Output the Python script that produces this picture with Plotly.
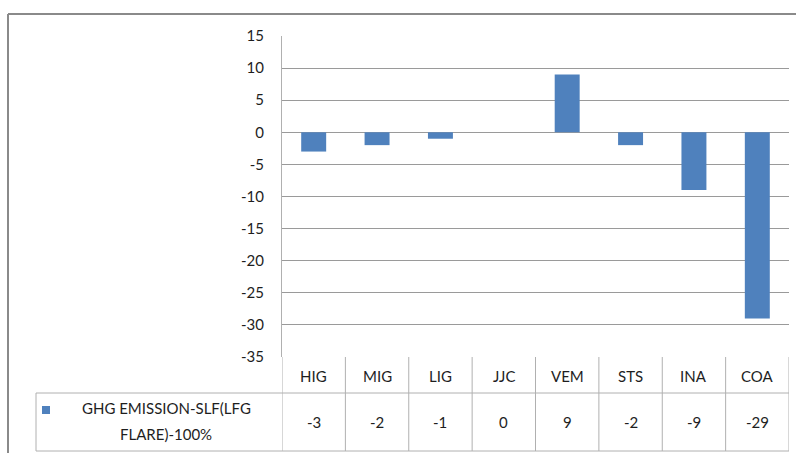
import plotly.graph_objects as go

# Sites and net GHG emission values (SLF with LFG flare, 100%)
categories = ["HIG", "MIG", "LIG", "JJC", "VEM", "STS", "INA", "COA"]
values = [-3, -2, -1, 0, 9, -2, -9, -29]
series_name_lines = ["GHG EMISSION-SLF(LFG", "FLARE)-100%"]
y_ticks = [15, 10, 5, 0, -5, -10, -15, -20, -25, -30, -35]

W, H = 796, 453
FONT = "Lato, 'Open Sans', sans-serif"
BAR = "#4F81BD"
GRID = "#9A9A9A"
TABLE = "#B0B0B0"
TEXT = "#1E1E1E"


def px(x):
    return x / W


def py(y):
    return 1 - y / H


plot_left, plot_right = 282, 789
plot_top, plot_bottom = 36, 357
row_split, table_bottom = 393, 451
legend_left = 36

fig = go.Figure(
    go.Bar(
        x=list(range(len(categories))),
        y=values,
        marker=dict(color=BAR, line=dict(width=0)),
        showlegend=False,
        hoverinfo="skip",
    )
)

shapes = []
annotations = []

# Outer chart frame
shapes.append(dict(type="line", xref="paper", yref="paper",
                   x0=px(8), x1=px(W + 10), y0=py(14), y1=py(14),
                   line=dict(color="#8A8A8A", width=2)))
shapes.append(dict(type="line", xref="paper", yref="paper",
                   x0=px(8), x1=px(8), y0=py(14), y1=py(H + 10),
                   line=dict(color="#8A8A8A", width=2)))

# Data table grid: column separators aligned with category boundaries
n = len(categories)
for i in range(n + 1):
    shapes.append(dict(type="line", xref="x", yref="paper",
                       x0=i - 0.5, x1=i - 0.5,
                       y0=py(plot_bottom), y1=py(table_bottom),
                       line=dict(color=TABLE, width=1)))
# Horizontal rules of the table
for yy in (row_split, table_bottom):
    shapes.append(dict(type="line", xref="paper", yref="paper",
                       x0=px(legend_left), x1=px(plot_right),
                       y0=py(yy), y1=py(yy),
                       line=dict(color=TABLE, width=1)))
shapes.append(dict(type="line", xref="paper", yref="paper",
                   x0=px(legend_left), x1=px(legend_left),
                   y0=py(row_split), y1=py(table_bottom),
                   line=dict(color=TABLE, width=1)))
# Legend key square
shapes.append(dict(type="rect", xref="paper", yref="paper",
                   x0=px(42), x1=px(50), y0=py(406), y1=py(414),
                   fillcolor=BAR, line=dict(width=0)))


def label(x, y, text, xref="paper", size=15):
    return dict(x=x, y=y, xref=xref, yref="paper", text=text,
                showarrow=False, xanchor="center", yanchor="middle",
                font=dict(family=FONT, size=size, color=TEXT))


# Table text: category headers and values
for i, (cat, val) in enumerate(zip(categories, values)):
    annotations.append(label(i, py(376), cat, xref="x"))
    annotations.append(label(i, py(422), str(val), xref="x"))

# Series name in the legend cell
for line_text, yy in zip(series_name_lines, [408, 434]):
    annotations.append(label(px(166), py(yy), line_text))

fig.update_layout(
    width=W, height=H,
    margin=dict(l=0, r=0, t=0, b=0, autoexpand=False),
    paper_bgcolor="white", plot_bgcolor="white",
    bargap=0.606,
    shapes=shapes,
    annotations=annotations,
    xaxis=dict(domain=[px(plot_left), px(plot_right)],
               range=[-0.5, n - 0.5], automargin=False,
               showticklabels=False, showgrid=False, zeroline=False,
               showline=False, fixedrange=True),
    yaxis=dict(domain=[py(plot_bottom), py(plot_top)],
               range=[-35, 15], tickvals=y_ticks, automargin=False,
               ticktext=[str(t) for t in y_ticks],
               showgrid=True, gridcolor=GRID, gridwidth=1,
               zeroline=True, zerolinecolor=GRID, zerolinewidth=1,
               showline=True, linecolor=TABLE, linewidth=1,
               ticks="", ticklabelstandoff=14,
               tickfont=dict(family=FONT, size=15, color=TEXT),
               fixedrange=True),
)

fig.write_html("out.html")
